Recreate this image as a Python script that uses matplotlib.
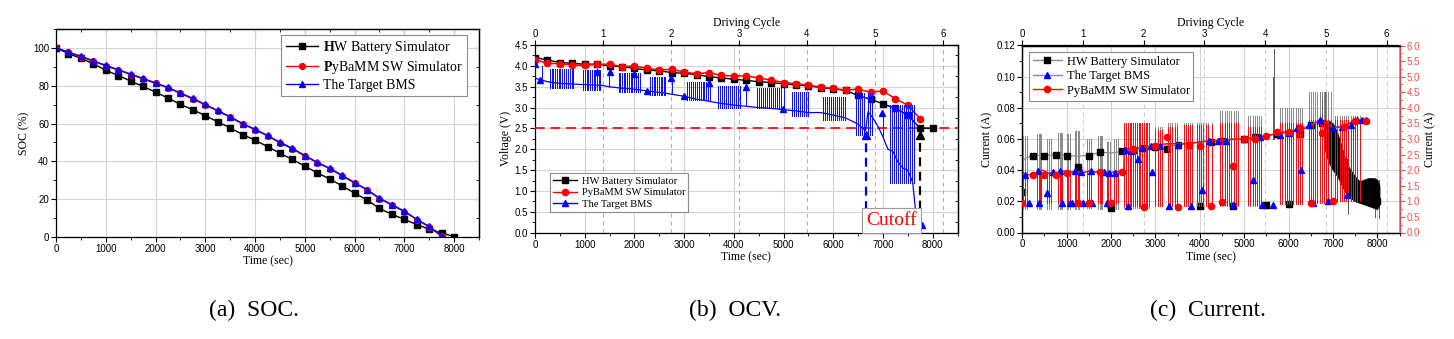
import matplotlib
matplotlib.use("Agg")
import matplotlib.pyplot as plt
from matplotlib.lines import Line2D
from matplotlib.ticker import MultipleLocator, FormatStrFormatter, NullFormatter
import numpy as np

plt.rcParams['font.family'] = ['Liberation Sans', 'DejaVu Sans']
plt.rcParams['mathtext.fontset'] = 'custom'
plt.rcParams['mathtext.rm'] = 'Liberation Serif'
plt.rcParams['mathtext.bf'] = 'Liberation Serif:bold'
plt.rcParams['axes.linewidth'] = 0.9

SERIF = ['Liberation Serif', 'DejaVu Serif']
W, H = 1454, 339
CYCLE = 1368.0  # seconds per driving cycle (top axis)

# ---------------- (a) SOC ----------------
soc_t = np.arange(0, 8001, 250)
soc_hw = [100, 97, 94.5, 91.6, 88.2, 85.4, 82.5, 79.6, 76.6, 73.5, 70.1, 67.3, 64.2, 60.9,
          57.7, 54.2, 51.2, 47.8, 44.3, 41.0, 37.5, 33.9, 30.7, 27.0, 23.2, 19.6, 15.1,
          12.0, 9.3, 6.6, 4.1, 2.2, 0.2]
soc_py = [100, 97.6, 95.3, 92.9, 90.5, 88.2, 85.9, 83.6, 81.2, 78.8, 75.9, 73.0, 69.8, 66.6,
          63.3, 59.7, 56.7, 53.4, 49.8, 46.6, 42.8, 39.2, 36.1, 32.3, 28.5, 24.8, 20.3,
          16.8, 13.4, 9.1, 5.3, 0.3]
soc_bms = [100, 97.8, 95.6, 93.2, 90.8, 88.5, 86.2, 83.9, 81.5, 79.1, 76.2, 73.3, 70.1, 66.9,
           63.6, 60.0, 57.0, 53.7, 50.1, 46.9, 43.1, 39.5, 36.4, 32.6, 28.8, 25.1, 20.6,
           17.1, 13.7, 9.4, 5.6, 0.6]

# ---------------- (b) OCV ----------------
ocv_hw = [4.20, 4.14, 4.08, 4.06, 4.04, 4.04, 4.00, 3.98, 3.94, 3.90, 3.88, 3.84, 3.82, 3.79,
          3.74, 3.71, 3.68, 3.65, 3.62, 3.60, 3.57, 3.54, 3.52, 3.48, 3.45, 3.41, 3.29, 3.20,
          3.09, 2.98, 2.82, 2.50, 2.50]
ocv_py = [4.15, 4.06, 4.05, 4.02, 4.01, 4.04, 4.04, 3.98, 4.00, 3.94, 3.90, 3.92, 3.85, 3.81,
          3.84, 3.77, 3.76, 3.76, 3.71, 3.66, 3.60, 3.57, 3.54, 3.49, 3.46, 3.42, 3.44, 3.37,
          3.40, 3.21, 3.06, 2.73]
bms_t = [0, 10, 140, 250, 500, 800, 1000, 1350, 1500, 1700, 2000, 2250, 2600, 2750, 3000,
         3250, 3500, 3750, 4000, 4250, 4500, 4750, 5000, 5250, 5500, 5750, 6000, 6250, 6420,
         6500, 6600, 6650, 6700, 6800, 6900, 7000, 7100, 7200, 7300, 7400, 7500, 7600, 7650,
         7700, 7790]
bms_v = [4.05, 3.70, 3.66, 3.62, 3.58, 3.56, 3.55, 3.53, 3.50, 3.47, 3.44, 3.40, 3.35, 3.32,
         3.27, 3.20, 3.15, 3.10, 3.06, 3.03, 3.00, 2.98, 2.95, 2.92, 2.88, 2.88, 2.82, 2.75,
         2.65, 2.60, 2.50, 2.45, 2.90, 2.75, 2.55, 2.30, 2.00, 1.95, 1.70, 1.55, 1.50, 1.20,
         0.60, 0.35, 0.20]
bms_mk_t = [0, 107, 1247, 1502, 1985, 2254, 2743, 2998, 3494, 4252, 4990, 6990, 7786]
bms_mk_v = [4.05, 3.65, 3.85, 3.86, 3.80, 3.40, 3.70, 3.28, 3.58, 3.49, 2.97, 2.86, 0.18]
ocv_pulses = [
    [150],
    [300, 335, 370, 405, 440, 475, 510, 545, 580, 620, 660, 700, 735, 770],
    [970, 1005, 1040, 1075, 1110, 1145, 1180, 1215, 1250, 1285, 1310],
    [1490],
    [1680, 1715, 1750, 1785, 1820, 1855, 1890, 1925, 1960, 2000, 2040, 2080, 2115],
    [2315, 2350, 2385, 2420, 2455, 2490, 2525, 2560, 2595, 2620],
    [2750],
    [3050, 3090, 3130, 3170, 3210, 3250, 3290, 3330, 3370, 3410, 3450, 3490, 3530],
    [3690, 3725, 3760, 3800, 3840, 3880, 3920, 3960, 4000, 4040, 4080, 4130],
    [4250],
    [4460, 4500, 4540, 4580, 4620, 4660, 4700, 4740, 4780, 4820, 4860, 4900, 4950, 5000],
    [5170, 5210, 5250, 5290, 5330, 5370, 5410, 5450, 5500],
    [5800, 5840, 5880, 5920, 5960, 6000, 6040, 6080, 6120, 6160, 6200, 6240],
    [6450, 6490, 6530, 6570, 6610, 6700, 6740, 6780],
    [7000],
    [7150, 7190, 7230, 7270, 7310, 7350, 7390, 7430, 7470, 7510, 7550, 7590, 7620],
]
ocv_lo = [3.68, 3.46, 3.42, 3.50, 3.38, 3.30, 3.32, 3.18, 2.99, 3.03, 2.98, 2.80, 2.70, 2.35, 2.30, 1.20]
ocv_hi = [4.00, 3.93, 3.90, 3.88, 3.82, 3.73, 3.70, 3.62, 3.52, 3.50, 3.46, 3.38, 3.26, 3.35, 2.90, 3.05]
cutoff_bms_t, cutoff_hw_t = 6650, 7750

# ---------------- (c) Current ----------------
hw_cur_t = [0, 100, 250, 500, 750, 1000, 1250, 1500, 1750, 2000, 2250, 2300, 2500, 3000, 3500,
            4000, 4500, 5000, 5500, 6000, 6500, 6750, 6850]
hw_cur_i = [0.046, 0.048, 0.0494, 0.0494, 0.050, 0.0494, 0.049, 0.0494, 0.0516, 0.051, 0.052,
            0.053, 0.053, 0.055, 0.056, 0.058, 0.059, 0.060, 0.062, 0.064, 0.068, 0.070, 0.066]
hw_cur_mk = [0.026, 0.0494, 0.0494, 0.050, 0.0494, 0.042, 0.0494, 0.0516, 0.0158, 0.052, 0.053,
             0.054, 0.055, 0.0535, 0.056, 0.056, 0.017, 0.058, 0.059, 0.017, 0.060, 0.061,
             0.0178, 0.063, 0.018, 0.063, 0.069, 0.070, 0.060, 0.045, 0.030, 0.022, 0.020]
band_t = [6800, 6900, 7000, 7100, 7200, 7300, 7400, 7500, 7600, 7700, 7800, 7900, 8000, 8050]
band_hi = [0.070, 0.072, 0.070, 0.064, 0.055, 0.045, 0.040, 0.036, 0.033, 0.034, 0.035, 0.035, 0.034, 0.030]
band_lo = [0.055, 0.045, 0.040, 0.036, 0.030, 0.025, 0.022, 0.020, 0.019, 0.018, 0.017, 0.016, 0.015, 0.018]
hw_spike_t = [5660, 5675, 6750, 6820, 7350, 7950, 8030]
hw_spike_lo = [0.060, 0.060, 0.060, 0.060, 0.012, 0.010, 0.009]
hw_spike_hi = [0.100, 0.118, 0.085, 0.090, 0.040, 0.035, 0.034]

cur_t = [0, 150, 300, 450, 600, 750, 900, 1050, 1200, 1350, 1500, 1650, 1800, 1950, 2100, 2290,
         2300, 2500, 2750, 3000, 3250, 3500, 3750, 4000, 4250, 4500, 4750, 5000, 5250, 5500,
         5750, 6000, 6250, 6500, 6700, 6850, 7000, 7250, 7500, 7760]
cur_py = [1.85, 1.85, 1.88, 2.00, 1.90, 1.88, 1.97, 1.93, 1.95, 1.90, 1.97, 1.93, 1.97, 1.90,
          1.95, 1.95, 2.70, 2.70, 2.75, 2.80, 2.85, 2.85, 2.85, 2.90, 2.95, 2.95, 3.00, 3.00,
          3.05, 3.10, 3.18, 3.25, 3.30, 3.40, 3.60, 3.50, 3.35, 3.40, 3.60, 3.60]
cur_bms = [1.83, 1.86, 1.90, 2.00, 1.92, 1.90, 1.98, 1.95, 1.97, 1.92, 1.98, 1.95, 1.98, 1.92,
           1.96, 1.96, 2.66, 2.68, 2.74, 2.80, 2.83, 2.86, 2.86, 2.92, 2.95, 2.96, 3.00, 3.02,
           3.06, 3.12, 3.18, 3.26, 3.32, 3.45, 3.62, 3.52, 3.38, 3.42, 3.62, 3.62]
cur_py_mk = [0.94, 1.83, 1.83, 1.85, 1.90, 0.94, 0.94, 1.94, 0.96, 1.95, 2.67, 0.83, 2.78, 3.05,
             0.83, 2.81, 2.78, 0.86, 0.99, 2.14, 2.99, 2.99, 3.10, 3.24, 3.22, 3.35, 0.94, 3.19,
             1.02, 3.40, 3.59, 3.59]
bms_cur_mk_t = [60, 160, 360, 385, 565, 700, 860, 890, 1075, 1130, 1185, 1320, 1360, 1540, 1560,
                1850, 1900, 1950, 2100, 2320, 2390, 2450, 2600, 2700, 2900, 2920, 3100, 3300,
                3500, 3800, 4050, 4200, 4400, 4600, 4750, 5000, 5200, 5350, 5400, 5650, 5800,
                6000, 6200, 6280, 6450, 6550, 6700, 6900, 7000, 7200, 7320, 7400, 7550, 7650, 7750]
bms_cur_mk_i = [1.83, 0.94, 1.97, 0.94, 1.28, 1.95, 1.98, 0.94, 0.94, 0.96, 1.98, 1.95, 0.95,
                1.98, 0.94, 1.95, 0.94, 1.90, 1.90, 2.65, 0.85, 2.62, 2.35, 2.70, 2.78, 1.95,
                2.78, 0.85, 2.82, 0.85, 1.35, 2.92, 2.95, 2.95, 0.88, 3.00, 1.70, 3.05, 0.88,
                0.88, 3.12, 3.20, 3.35, 2.00, 3.45, 0.95, 3.62, 1.00, 3.35, 3.40, 1.20, 3.45,
                3.62, 3.62, 3.60]
cur_pulses = [
    [20, 60, 100],
    [330, 370, 410, 430],
    [560, 600, 640],
    [800, 840, 880, 900],
    [1010, 1040, 1070],
    [1190, 1220, 1250, 1280],
    [1460, 1500, 1540],
    [1700, 1740, 1780, 1800],
    [1900, 1940, 1970],
    [2070, 2110, 2150],
    [2300, 2340, 2380, 2420, 2460, 2500, 2540, 2580, 2620, 2660, 2700, 2740, 2780, 2820, 2860],
    [3000, 3050, 3100, 3150],
    [3280, 3330, 3380, 3430, 3480],
    [3640, 3690, 3740, 3790, 3830],
    [3930, 3980, 4030, 4080, 4130, 4180, 4280],
    [4460, 4510, 4560, 4610, 4660, 4710, 4760, 4810, 4860],
    [5090, 5140, 5190, 5240, 5290, 5340, 5390],
    [5810, 5860, 5910, 5960, 6010, 6060, 6110, 6160, 6210, 6260, 6300],
    [6450, 6500, 6550, 6600, 6650, 6700, 6750, 6800, 6850, 6900, 6950],
    [7050, 7100, 7150, 7200, 7250, 7300, 7350, 7400, 7450, 7500, 7550, 7600],
]
cur_py_lo = [0.95, 0.95, 0.95, 0.95, 0.95, 0.95, 0.95, 0.95, 0.95, 0.95,
             0.85, 0.85, 0.85, 0.85, 0.85, 0.87, 0.88, 0.90, 0.95, 1.00]
cur_py_hi = [1.95, 1.97, 1.95, 1.97, 1.95, 1.97, 1.97, 1.97, 1.95, 1.97,
             3.50, 3.30, 3.40, 3.45, 3.45, 3.50, 3.40, 3.50, 3.60, 3.60]
hw_pulse_lo = [0.015, 0.015, 0.015, 0.015, 0.015, 0.015, 0.016, 0.015, 0.016, 0.015,
               0.016, 0.017, 0.017, 0.017, 0.017, 0.017, 0.017, 0.018, 0.019, 0.020]
hw_pulse_hi = [0.062, 0.063, 0.060, 0.064, 0.063, 0.065, 0.060, 0.062, 0.058, 0.060,
               0.068, 0.068, 0.070, 0.070, 0.070, 0.078, 0.075, 0.080, 0.090, 0.075]


def px_axes(fig, left, top, right, bottom):
    return fig.add_axes([left / W, 1 - bottom / H, (right - left) / W, (bottom - top) / H])


def style_axes(ax, ymaj, ymin, yfmt):
    ax.set_xlim(0, 8500)
    ax.xaxis.set_major_locator(MultipleLocator(1000))
    ax.xaxis.set_minor_locator(MultipleLocator(500))
    ax.yaxis.set_major_locator(MultipleLocator(ymaj))
    ax.yaxis.set_minor_locator(MultipleLocator(ymin))
    ax.yaxis.set_major_formatter(FormatStrFormatter(yfmt))
    ax.tick_params(which='major', length=3.5, width=0.8, labelsize=7, pad=1.5)
    ax.tick_params(which='minor', length=2, width=0.6)
    ax.grid(True, which='major', color='#d4d4d4', lw=0.8)
    ax.set_axisbelow(True)
    ax.set_xlabel('Time (sec)', family=SERIF, fontsize=8.5, labelpad=1)


def mirror_ticks(ax, ymaj, ymin):
    top = ax.secondary_xaxis('top')
    top.xaxis.set_major_locator(MultipleLocator(1000))
    top.xaxis.set_minor_locator(MultipleLocator(500))
    top.xaxis.set_major_formatter(NullFormatter())
    top.tick_params(which='major', direction='in', length=3.5, width=0.8)
    top.tick_params(which='minor', direction='in', length=2, width=0.6)
    mirror_right(ax, ymaj, ymin)


def mirror_right(ax, ymaj, ymin):
    r = ax.secondary_yaxis('right')
    r.yaxis.set_major_locator(MultipleLocator(ymaj))
    r.yaxis.set_minor_locator(MultipleLocator(ymin))
    r.yaxis.set_major_formatter(NullFormatter())
    r.tick_params(which='major', direction='in', length=3.5, width=0.8)
    r.tick_params(which='minor', direction='in', length=2, width=0.6)


def cycle_axis(ax, dash_color):
    sec = ax.secondary_xaxis('top', functions=(lambda t: t / CYCLE, lambda c: c * CYCLE))
    sec.set_xticks(range(7))
    sec.tick_params(length=3.5, width=0.8, labelsize=7, pad=1)
    sec.set_xlabel('Driving Cycle', family=SERIF, fontsize=8.5, labelpad=2)
    for c in range(1, 7):
        ax.axvline(c * CYCLE, color=dash_color, ls=(0, (4, 3)), lw=0.8, zorder=0.6)


def legend(ax, handles, size, anchor, loc):
    lg = ax.legend(handles=handles, loc=loc, bbox_to_anchor=anchor, borderaxespad=0,
                   prop={'family': SERIF, 'size': size}, fancybox=False, framealpha=1,
                   edgecolor='#8c8c8c', borderpad=0.3, labelspacing=0.2,
                   handlelength=2.3, handletextpad=0.4)
    lg.get_frame().set_linewidth(0.8)
    lg.set_zorder(20)
    return lg


fig = plt.figure(figsize=(W / 100, H / 100), dpi=100)

# ---- (a) ----
ax1 = px_axes(fig, 56, 29, 479, 237)
style_axes(ax1, 20, 10, '%d')
ax1.set_ylim(0, 110)
mirror_ticks(ax1, 20, 10)
ax1.set_ylabel('SOC (%)', family=SERIF, fontsize=8.5, labelpad=2)
ax1.plot(soc_t, soc_hw, color='k', marker='s', ms=4.2, lw=1)
ax1.plot(soc_t[:len(soc_py)], soc_py, color='r', marker='o', ms=4.2, lw=1)
ax1.plot(soc_t[:len(soc_bms)], soc_bms, color='b', marker='^', ms=5, lw=1)
legend(ax1, [
    Line2D([], [], color='k', marker='s', ms=4.2, lw=1, label=r'$\mathbf{H}$W Battery Simulator'),
    Line2D([], [], color='r', marker='o', ms=4.2, lw=1, label=r'$\mathbf{P}$yBaMM SW Simulator'),
    Line2D([], [], color='b', marker='^', ms=5, lw=1, label='The Target BMS'),
], 10, (0.972, 0.971), 'upper right')

# ---- (b) ----
ax2 = px_axes(fig, 535, 45, 957.5, 232.7)
style_axes(ax2, 0.5, 0.25, '%.1f')
ax2.set_ylim(0, 4.5)
ax2.set_ylabel('Voltage (V)', family=SERIF, fontsize=8.5, labelpad=2)
cycle_axis(ax2, '#b4b4b4')
mirror_right(ax2, 0.5, 0.25)

ax2.axhline(2.5, color='#ff1a1a', ls=(0, (5, 3)), lw=1.4, zorder=3)
ax2.plot(soc_t, ocv_hw, color='k', marker='s', ms=4.2, lw=1, zorder=4)
ax2.plot(soc_t[:len(ocv_py)], ocv_py, color='r', marker='o', ms=4.5, lw=1.1, zorder=4)
ax2.plot(bms_t, bms_v, color='b', lw=0.9, zorder=5)
for grp, lo, hi in zip(ocv_pulses, ocv_lo, ocv_hi):
    ax2.vlines(grp, lo, hi, color='#1010ff', lw=0.72, antialiased=False, zorder=5)
ax2.plot(bms_mk_t, bms_mk_v, ls='none', color='b', marker='^', ms=4.8, zorder=6)
ax2.plot([cutoff_bms_t, cutoff_bms_t], [0.55, 2.32], color='b', ls=(0, (4, 2.5)), lw=1.6, zorder=6)
ax2.plot([cutoff_bms_t], [2.35], ls='none', color='b', marker='^', ms=6, zorder=6)
ax2.plot([cutoff_hw_t, cutoff_hw_t], [0.2, 2.32], color='k', ls=(0, (4, 2.5)), lw=1.6, zorder=6)
ax2.plot([cutoff_hw_t], [2.35], ls='none', color='k', marker='^', ms=6, zorder=6)
ax2.text(7170, 0.3, 'Cutoff', color='r', family=SERIF, fontsize=14, ha='center', va='center',
         zorder=10, bbox=dict(boxstyle='square,pad=0.2', fc='white', ec='#9a9a9a', lw=0.8))
legend(ax2, [
    Line2D([], [], color='k', marker='s', ms=4.2, lw=1, label='HW Battery Simulator'),
    Line2D([], [], color='r', marker='o', ms=4.5, lw=1, label='PyBaMM SW Simulator'),
    Line2D([], [], color='b', marker='^', ms=4.8, lw=1, label='The Target BMS'),
], 7.6, (0.0355, 0.110), 'lower left')

# ---- (c) ----
ax3 = px_axes(fig, 1022.3, 45.5, 1399.5, 232.5)
style_axes(ax3, 0.02, 0.01, '%.2f')
ax3.set_ylim(0, 0.12)
ax3.set_ylabel('Current (A)', family=SERIF, fontsize=8.5, labelpad=2)
cycle_axis(ax3, '#cfcfcf')
ax3.plot(hw_cur_t, hw_cur_i, color='#808080', lw=0.8, zorder=3)
for grp, lo, hi in zip(cur_pulses, hw_pulse_lo, hw_pulse_hi):
    ax3.vlines(grp, lo, hi, color='#8c8c8c', lw=0.72, antialiased=False, zorder=3)
ax3.vlines(hw_spike_t, hw_spike_lo, hw_spike_hi, color='#606060', lw=0.72,
           antialiased=False, zorder=3)
ax3.fill_between(band_t, band_lo, band_hi, color='k', lw=0.5, zorder=3)
ax3.plot(soc_t, hw_cur_mk, ls='none', color='k', marker='s', ms=4, zorder=3)

ax3r = ax3.twinx()
ax3r.set_ylim(0, 6)
ax3r.yaxis.set_major_locator(MultipleLocator(0.5))
ax3r.yaxis.set_minor_locator(MultipleLocator(0.25))
ax3r.yaxis.set_major_formatter(FormatStrFormatter('%.1f'))
ax3r.tick_params(which='major', length=3.5, width=0.8, labelsize=7, pad=1.5,
                 colors='#ff4d4d')
ax3r.tick_params(which='minor', length=2, width=0.6, colors='#ff4d4d')
ax3r.spines['right'].set_color('#ff6666')
ax3r.spines['right'].set_linewidth(1.1)
ax3r.set_ylabel('Current (A)', family=SERIF, fontsize=8.5, labelpad=3)
ax3r.plot(cur_t, cur_bms, color='#7070ff', lw=0.8, zorder=2)
ax3r.plot(cur_t, cur_py, color='r', lw=0.9, zorder=3)
for grp, lo, hi in zip(cur_pulses, cur_py_lo, cur_py_hi):
    ax3r.vlines(grp, lo, hi, color='#f01018', lw=0.72, antialiased=False, zorder=3)
ax3r.plot(bms_cur_mk_t, bms_cur_mk_i, ls='none', color='b', marker='^', ms=4.2, zorder=4)
ax3r.plot(soc_t[:len(cur_py_mk)], cur_py_mk, ls='none', color='r', marker='o', ms=4.5, zorder=5)
legend(ax3r, [
    Line2D([], [], color='#8a8a8a', marker='s', mfc='k', mec='k', ms=4.2, lw=1,
           label='HW Battery Simulator'),
    Line2D([], [], color='#8080ff', marker='^', mfc='b', mec='b', ms=4.8, lw=1,
           label='The Target BMS'),
    Line2D([], [], color='r', marker='o', ms=4.5, lw=1, label='PyBaMM SW Simulator'),
], 9, (0.018, 0.965), 'upper left')

# ---- captions ----
for x, txt in [(253.5, '(a)  SOC.'), (735, '(b)  OCV.'), (1208, '(c)  Current.')]:
    fig.text(x / W, 1 - 316 / H, txt, ha='center', va='baseline', family=SERIF, fontsize=17)

fig.savefig('out.png', dpi=100)
